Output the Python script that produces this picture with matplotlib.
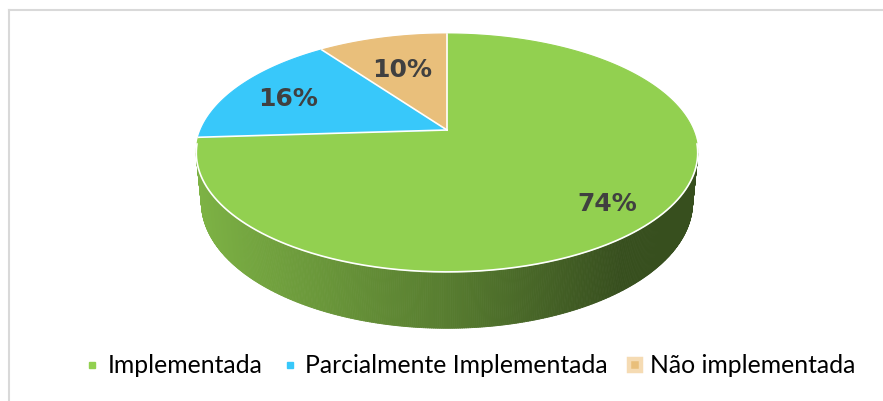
import numpy as np
import matplotlib
matplotlib.use("Agg")
import matplotlib.pyplot as plt
from matplotlib.collections import PolyCollection
from matplotlib.lines import Line2D
from matplotlib import colors as mcolors

# data
categorias = ["Implementada", "Parcialmente Implementada", "Não implementada"]
percentuais = [74, 16, 10]
cores = ["#92d050", "#38c8fa", "#e9bf7b"]

# layout of the 3D pie (pixel space)
CX, CY = 447, 130      # image of the pie centre
RX, RY = 246, 114.5    # horizontal / vertical scale of the top face
K = 0.193              # perspective strength (back is farther)
DEPTH, M = 49.5, 0.02  # thickness of the pie
label_r = [0.80, 0.76, 0.66]


def proj(X, Y, z=0.0):
    w = 1 + K * Y + M * z
    return CX + RX * X / w, CY - RY * Y / w + DEPTH * z / w


def shade(c, x):
    u = (x - 196) / 502.0
    f = np.interp(u, [0, 0.1, 0.5, 0.85, 1], [0.86, 0.80, 0.60, 0.38, 0.38])
    r, g, b = mcolors.to_rgb(c)
    return (r * f, g * f, b * f)


fig = plt.figure(figsize=(8.83, 4.01), dpi=100)
ax = fig.add_axes([0, 0, 1, 1])
ax.set_xlim(0, 883)
ax.set_ylim(401, 0)
ax.axis("off")

# frame
ax.plot([8.5, 8.5], [401, 9.5], color="#d9d9d9", lw=1.5)
ax.plot([8.5, 883], [9.5, 9.5], color="#d9d9d9", lw=1.5)

# wedge angles, clockwise from 12 o'clock
fr = np.array(percentuais) / sum(percentuais)
limites = 90 - 360 * np.concatenate([[0], np.cumsum(fr)])


def cor_em(t):
    a = (90 - np.degrees(t)) % 360
    idx = np.searchsorted(np.cumsum(fr) * 360, a, side="right")
    return cores[min(idx, len(cores) - 1)]


# side of the pie (front half)
t_ext = np.arcsin(K)
ts = np.linspace(np.pi + t_ext, 2 * np.pi - t_ext, 400)
quads, qcols = [], []
for t0, t1 in zip(ts[:-1], ts[1:]):
    x0, y0 = proj(np.cos(t0), np.sin(t0))
    x1, y1 = proj(np.cos(t1), np.sin(t1))
    x2, y2 = proj(np.cos(t1), np.sin(t1), 1)
    x3, y3 = proj(np.cos(t0), np.sin(t0), 1)
    quads.append([(x0, y0), (x1, y1), (x2, y2), (x3, y3)])
    qcols.append(shade(cor_em((t0 + t1) / 2), (x0 + x1) / 2))
ax.add_collection(PolyCollection(quads, facecolors=qcols, edgecolors=qcols, linewidths=0.6))

# top face
for i, c in enumerate(cores):
    a = np.radians(np.linspace(limites[i], limites[i + 1], 200))
    xs, ys = proj(np.cos(a), np.sin(a))
    px = np.concatenate([[CX], xs, [CX]])
    py = np.concatenate([[CY], ys, [CY]])
    ax.fill(px, py, facecolor=c, edgecolor=c, lw=0.8, zorder=3)
for i in range(len(cores)):
    a = np.radians(limites[i])
    ex, ey = proj(np.cos(a), np.sin(a))
    ax.plot([CX, ex], [CY, ey], color="white", lw=1.2, zorder=4)

# white rim line on the front
tr = np.linspace(np.pi + 0.12, 2 * np.pi - 0.12, 300)
rx, ry = proj(np.cos(tr), np.sin(tr))
ax.plot(rx, ry, color="white", lw=1.2, zorder=4)

# percentage labels
for i, p in enumerate(percentuais):
    meio = np.radians((limites[i] + limites[i + 1]) / 2)
    lx, ly = proj(label_r[i] * np.cos(meio), label_r[i] * np.sin(meio))
    ax.text(lx, ly + 4, f"{p}%", ha="center", va="center", fontsize=18,
            fontweight="bold", color="#404040", family="DejaVu Sans", zorder=5)

# legend
handles = [
    Line2D([], [], marker="s", ls="none", markersize=5, color=cores[0]),
    Line2D([], [], marker="s", ls="none", markersize=5, color=cores[1]),
    Line2D([], [], marker="s", ls="none", markersize=9, markerfacecolor=cores[2],
           markeredgecolor="#f5dbb3", markeredgewidth=3.2),
]
fig.legend(handles, categorias, loc="center", bbox_to_anchor=(0.534, 0.088),
           ncol=3, frameon=False, handlelength=0.4, handletextpad=0.42,
           columnspacing=0.9, prop={"family": "Lato", "size": 17.8})

fig.savefig("out.png", dpi=100)
